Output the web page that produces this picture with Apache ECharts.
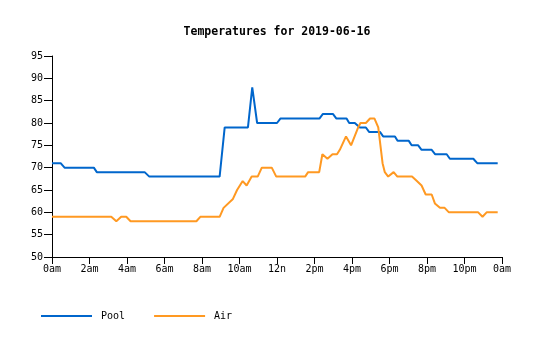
<!DOCTYPE html>
<html>
<head>
<meta charset="utf-8">
<script src="https://cdn.jsdelivr.net/npm/echarts@6/dist/echarts.min.js"></script>
<style>
html,body{margin:0;padding:0;background:#fff;}
#chart{width:535px;height:340px;}
</style>
</head>
<body>
<div id="chart"></div>
<script>
const titleText = 'Temperatures for 2019-06-16';
const seriesNames = ['Pool', 'Air'];
const xTickLabels = ['0am','2am','4am','6am','8am','10am','12n','2pm','4pm','6pm','8pm','10pm','0am'];
const yTicks = [50,55,60,65,70,75,80,85,90,95];

// [hour of day, temperature]
const poolHours = [0,0.46,0.67,2.23,2.39,4.94,5.19,8.94,9.21,10.45,10.68,10.94,12.0,12.18,14.26,14.44,14.99,15.17,15.71,15.85,16.15,16.42,16.74,16.91,17.49,17.66,18.29,18.43,19.03,19.18,19.53,19.71,20.25,20.44,21.05,21.22,22.47,22.68,23.77];
const poolTemps = [71,71,70,70,69,69,68,68,79,79,88,80,80,81,81,82,82,81,81,80,80,79,79,78,78,77,77,76,76,75,75,74,74,73,73,72,72,71,71];

const airHours = [0,3.16,3.43,3.69,3.96,4.19,7.70,7.91,8.94,9.15,9.65,9.87,10.17,10.38,10.65,10.97,11.19,11.72,11.96,13.5,13.66,14.25,14.42,14.69,14.96,15.2,15.35,15.68,15.95,16.33,16.45,16.74,16.96,17.2,17.4,17.63,17.75,17.93,18.22,18.42,19.2,19.46,19.71,19.93,20.25,20.42,20.69,20.94,21.17,22.73,22.96,23.18,23.77];
const airTemps = [59,59,58,59,59,58,58,59,59,61,63,65,67,66,68,68,70,70,68,68,69,69,73,72,73,73,74,77,75,79,80,80,81,81,79,71,69,68,69,68,68,67,66,64,64,62,61,61,60,60,59,60,60];

const colors = ['#0066cc', '#ff9922'];
const font = 'DejaVu Sans Mono';

function pairs(xs, ys){ return xs.map((x,i)=>[x, ys[i]]); }

const chart = echarts.init(document.getElementById('chart'), null, {renderer:'canvas'});
chart.setOption({
  animation: false,
  backgroundColor: '#fff',
  title: {
    text: titleText,
    left: 277, top: 26, textAlign: 'center', padding: 0,
    textStyle: {fontFamily: font, fontWeight: 'bold', fontSize: 11.5, color: '#000'}
  },
  legend: {
    data: seriesNames,
    left: 41, top: 311, padding: 0,
    icon: 'rect', itemWidth: 51, itemHeight: 2,
    itemGap: 29,
    textStyle: {fontFamily: font, fontSize: 10, color: '#000', padding: [0,0,0,4]}
  },
  grid: {left: 52, right: 33, top: 56, bottom: 83, containLabel: false},
  xAxis: {
    type: 'value', min: 0, max: 24, interval: 2,
    axisLine: {lineStyle: {color: '#000', width: 1}},
    axisTick: {show: true, length: 7, lineStyle: {color: '#000'}},
    splitLine: {show: false},
    axisLabel: {
      fontFamily: font, fontSize: 10, color: '#000', margin: 7,
      formatter: v => xTickLabels[Math.round(v/2)]
    }
  },
  yAxis: {
    type: 'value', min: yTicks[0], max: yTicks[yTicks.length-1], interval: 5,
    axisLine: {show: true, lineStyle: {color: '#000', width: 1}},
    axisTick: {show: true, length: 8, lineStyle: {color: '#000'}},
    splitLine: {show: false},
    axisLabel: {fontFamily: font, fontSize: 10, color: '#000', margin: 9}
  },
  series: [
    {
      name: seriesNames[0], type: 'line', data: pairs(poolHours, poolTemps),
      showSymbol: false, symbol: 'none', color: colors[0],
      lineStyle: {width: 2, color: colors[0]}
    },
    {
      name: seriesNames[1], type: 'line', data: pairs(airHours, airTemps),
      showSymbol: false, symbol: 'none', color: colors[1],
      lineStyle: {width: 2, color: colors[1]}
    }
  ]
});
</script>
</body>
</html>
